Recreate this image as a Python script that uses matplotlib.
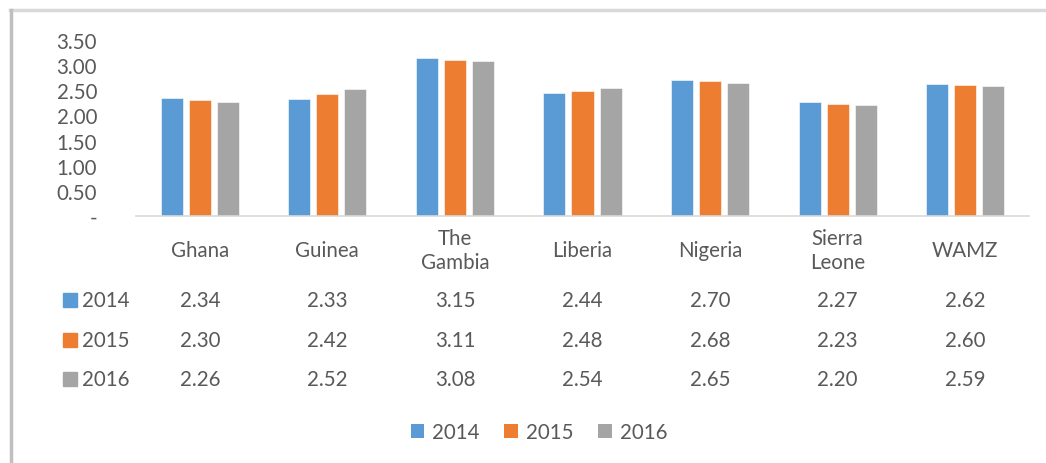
import matplotlib
matplotlib.use("Agg")
import matplotlib.pyplot as plt
from matplotlib.patches import Patch, Rectangle
from matplotlib.lines import Line2D
import matplotlib.transforms as mtransforms
import numpy as np

plt.rcParams["font.family"] = ["Lato", "DejaVu Sans"]

countries = ["Ghana", "Guinea", "The\nGambia", "Liberia", "Nigeria", "Sierra\nLeone", "WAMZ"]
years = ["2014", "2015", "2016"]
v2014 = [2.34, 2.33, 3.15, 2.44, 2.70, 2.27, 2.62]
v2015 = [2.30, 2.42, 3.11, 2.48, 2.68, 2.23, 2.60]
v2016 = [2.26, 2.52, 3.08, 2.54, 2.65, 2.20, 2.59]
yticks = [0, 0.5, 1.0, 1.5, 2.0, 2.5, 3.0, 3.5]
ytick_labels = ["-", "0.50", "1.00", "1.50", "2.00", "2.50", "3.00", "3.50"]

colors = ["#5B9BD5", "#ED7D31", "#A5A5A5"]
txt = "#595959"
fs = 14.8
W, H = 1046, 464

fig = plt.figure(figsize=(W / 100, H / 100), dpi=100)
ax = fig.add_axes([136 / W, (H - 217) / H, (1029 - 136) / W, (217 - 41) / H])

x = np.arange(len(countries))
bw = 0.173
step = 0.22
for i, vals in enumerate([v2014, v2015, v2016]):
    ax.bar(x + (i - 1) * step, vals, width=bw, color=colors[i], edgecolor="white",
           linewidth=0.4, zorder=2)

ax.set_xlim(-0.5, len(countries) - 0.5)
ax.set_ylim(0, 3.5)
ax.set_yticks(yticks)
ax.set_yticklabels(ytick_labels)
ax.tick_params(axis="y", length=0, pad=28, labelsize=fs, labelcolor=txt)
ax.set_xticks([])
for s in ["top", "right", "left"]:
    ax.spines[s].set_visible(False)
ax.spines["bottom"].set_color("#D9D9D9")
ax.spines["bottom"].set_linewidth(1.2)

# data table below the plot
tr = mtransforms.blended_transform_factory(ax.transData, fig.transFigure)
def fy(py):
    return 1 - py / H

for xi, name in zip(x, countries):
    ax.text(xi, fy(251), name, transform=tr, ha="center", va="center",
            fontsize=fs, color=txt, linespacing=1.2, clip_on=False)

row_y = [301, 341, 380]
for r, vals in enumerate([v2014, v2015, v2016]):
    for xi, v in zip(x, vals):
        ax.text(xi, fy(row_y[r]), f"{v:.2f}", transform=tr, ha="center", va="center",
                fontsize=fs, color=txt, clip_on=False)
    fig.patches.append(Rectangle((63 / W, fy(row_y[r] + 7)), 14 / W, 14 / H,
                                 transform=fig.transFigure, color=colors[r]))
    fig.text(82 / W, fy(row_y[r]), years[r], ha="left", va="center", fontsize=fs, color=txt)

# legend
handles = [Patch(facecolor=c, edgecolor="none") for c in colors]
fig.legend(handles, years, loc="center", bbox_to_anchor=(539 / W, fy(433)), ncol=3,
           frameon=False, fontsize=fs, labelcolor=txt, handlelength=0.65, handleheight=0.65,
           handletextpad=0.4, columnspacing=1.2)

# chart frame
fig.add_artist(Line2D([10 / W, 1], [fy(11), fy(11)], color="#D9D9D9", linewidth=2.5,
                      transform=fig.transFigure))
fig.add_artist(Line2D([11 / W, 11 / W], [0, fy(11)], color="#BFBFBF", linewidth=2.5,
                      transform=fig.transFigure))

fig.savefig("out.png", dpi=100)
